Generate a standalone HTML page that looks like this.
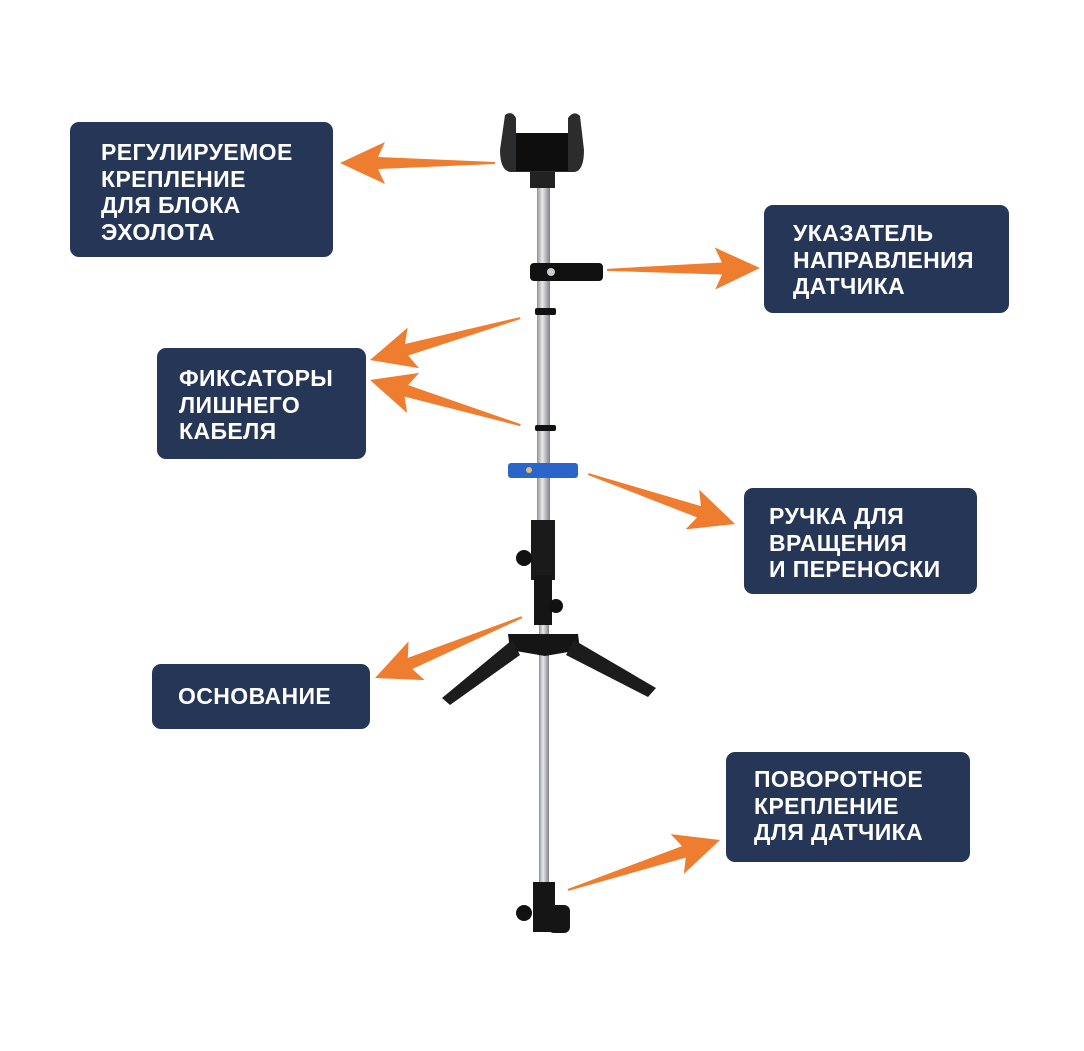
<!DOCTYPE html>
<html><head><meta charset="utf-8"><style>
html,body{margin:0;padding:0;background:#fff;}
body{width:1084px;height:1051px;position:relative;overflow:hidden;font-family:"Liberation Sans",sans-serif;}
.b{position:absolute;background:#263657;border-radius:9px;color:#fff;font-weight:bold;font-size:23px;line-height:26.7px;letter-spacing:0.4px;box-sizing:border-box;}
svg{position:absolute;left:0;top:0;}
</style></head><body>
<svg width="1084" height="1051">
<defs>
<linearGradient id="pole" x1="0" x2="1"><stop offset="0" stop-color="#8d9196"/><stop offset="0.4" stop-color="#e8eaec"/><stop offset="1" stop-color="#7d8186"/></linearGradient>
</defs>
<!-- poles -->
<rect x="537" y="175" width="13" height="350" fill="url(#pole)"/>
<rect x="539" y="600" width="10" height="290" fill="url(#pole)"/>
<!-- holder -->
<path d="M505 115 Q512 110 516 118 L516 135 L568 135 L568 118 Q574 110 580 116 L584 150 Q584 170 575 172 L510 172 Q500 170 500 150 Z" fill="#2a2c2e"/>
<rect x="516" y="133" width="52" height="38" fill="#0e0e0e"/>
<rect x="530" y="172" width="25" height="16" fill="#222"/>
<!-- collar -->
<rect x="530" y="263" width="73" height="18" rx="4" fill="#111"/>
<circle cx="551" cy="272" r="4" fill="#ccc"/>
<rect x="535" y="308" width="21" height="7" rx="2" fill="#111"/>
<rect x="535" y="425" width="21" height="6" rx="2" fill="#111"/>
<!-- blue handle -->
<rect x="508" y="463" width="70" height="15" rx="3" fill="#2a66c9"/>
<circle cx="529" cy="470" r="3" fill="#e0c070"/>
<!-- joint -->
<rect x="531" y="520" width="24" height="60" fill="#1a1a1a"/>
<circle cx="524" cy="558" r="8" fill="#111"/>
<rect x="534" y="575" width="18" height="50" fill="#151515"/>
<circle cx="556" cy="606" r="7" fill="#111"/>
<path d="M508 634 L578 634 L580 650 L545 656 L510 650 Z" fill="#151515"/>
<path d="M512 640 L520 655 L450 705 L442 698 Z" fill="#1c1c1c"/>
<path d="M574 640 L566 655 L648 697 L656 688 Z" fill="#1c1c1c"/>
<!-- bottom clamp -->
<rect x="533" y="882" width="22" height="50" fill="#151515"/>
<rect x="548" y="905" width="22" height="28" rx="6" fill="#151515"/>
<circle cx="524" cy="913" r="8" fill="#111"/>
<g fill="#ee7d2f">
<polygon points="0,0 -45,-21 -38,-6 -155,-1 -155,1 -38,6 -45,21" transform="translate(340,163) rotate(180)"/>
<polygon points="0,0 -45,-21 -38,-6 -153,-1 -153,1 -38,6 -45,21" transform="translate(760,268) rotate(-0.7)"/>
<polygon points="0,0 -45,-21 -38,-6 -156,-1 -156,1 -38,6 -45,21" transform="translate(370,360) rotate(164.4)"/>
<polygon points="0,0 -45,-21 -38,-6 -157,-1 -157,1 -38,6 -45,21" transform="translate(370,380) rotate(-163.3)"/>
<polygon points="0,0 -45,-21 -38,-6 -155,-1 -155,1 -38,6 -45,21" transform="translate(735,524) rotate(18.8)"/>
<polygon points="0,0 -45,-21 -38,-6 -159,-1 -159,1 -38,6 -45,21" transform="translate(375,678) rotate(157.5)"/>
<polygon points="0,0 -45,-21 -38,-6 -160,-1 -160,1 -38,6 -45,21" transform="translate(720,840) rotate(-18.2)"/>
</g>
</svg>
<div class="b" style="left:70px;top:122px;width:263px;height:135px;padding:17px 0 0 31px;">РЕГУЛИРУЕМОЕ<br>КРЕПЛЕНИЕ<br>ДЛЯ БЛОКА<br>ЭХОЛОТА</div>
<div class="b" style="left:764px;top:205px;width:245px;height:108px;padding:15px 0 0 29px;">УКАЗАТЕЛЬ<br>НАПРАВЛЕНИЯ<br>ДАТЧИКА</div>
<div class="b" style="left:157px;top:348px;width:209px;height:111px;padding:17px 0 0 22px;">ФИКСАТОРЫ<br>ЛИШНЕГО<br>КАБЕЛЯ</div>
<div class="b" style="left:744px;top:488px;width:233px;height:106px;padding:15px 0 0 25px;">РУЧКА ДЛЯ<br>ВРАЩЕНИЯ<br>И ПЕРЕНОСКИ</div>
<div class="b" style="left:152px;top:664px;width:218px;height:65px;padding:19px 0 0 26px;">ОСНОВАНИЕ</div>
<div class="b" style="left:726px;top:752px;width:244px;height:110px;padding:14px 0 0 28px;">ПОВОРОТНОЕ<br>КРЕПЛЕНИЕ<br>ДЛЯ ДАТЧИКА</div>
</body></html>
